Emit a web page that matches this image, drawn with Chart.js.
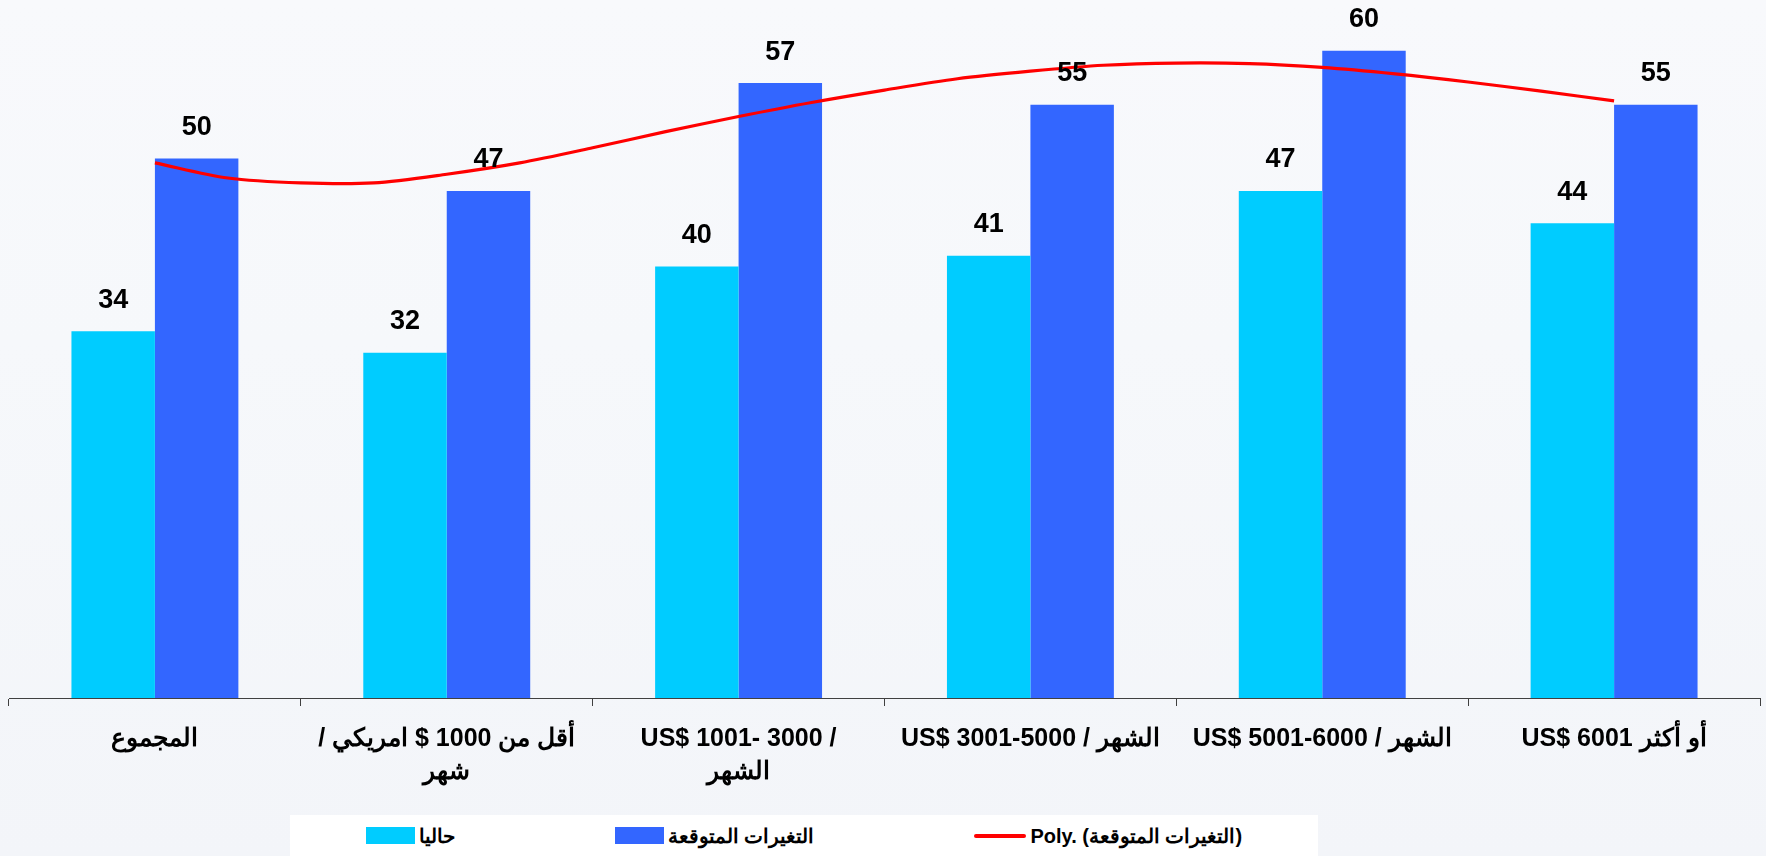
<!DOCTYPE html>
<html>
<head>
<meta charset="utf-8">
<script src="https://cdn.jsdelivr.net/npm/chart.js@4.4.1/dist/chart.umd.min.js"></script>
<style>
  html, body { margin:0; padding:0; }
  body { width:1766px; height:856px; position:relative; overflow:hidden;
         background: linear-gradient(180deg, #F8F9FC 0%, #F6F8FB 40%, #F3F5F9 100%);
         font-family: "Liberation Sans", Arial, sans-serif; }
  #wrap { position:absolute; left:0; top:0; width:1766px; height:856px; }
  #legend { position:absolute; left:290px; top:815px; width:1028px; height:41px; background:#FFFFFF;
            display:flex; justify-content:center; align-items:center; gap:160px; direction:ltr; }
  .item { display:flex; align-items:center; gap:4px; font-weight:bold; font-size:20px; color:#000; white-space:nowrap; }
  .sw { width:49px; height:17px; }
  .ln { width:52px; height:4px; border-radius:2px; }
</style>
</head>
<body>
<div id="wrap"><canvas id="c" width="1766" height="856" dir="ltr"></canvas></div>
<div id="legend"></div>
<script>
// ---- data ----
const categories = [
  "المجموع",
  ["/ أقل من 1000 $ امريكي", "شهر"],
  ["US$ 1001- 3000 /", "الشهر"],
  "US$ 3001-5000 / الشهر",
  "US$ 5001-6000 / الشهر",
  "US$ 6001 أو أكثر"
];
const currentValues  = [34, 32, 40, 41, 47, 44];
const expectedValues = [50, 47, 57, 55, 60, 55];
const seriesNames = ["حاليا", "التغيرات المتوقعة", "Poly. (التغيرات المتوقعة)"];
// trend line (x in category index units)
const trendX = [0, 0.25, 0.5, 0.75, 1.0, 1.25, 1.5, 1.75, 2.0, 2.25, 2.5, 2.75, 3.0, 3.25, 3.5, 3.75, 4.0, 4.25, 4.5, 4.75, 5.0];
const trendY = [49.6, 48.2, 47.75, 47.75, 48.55, 49.6, 51.0, 52.5, 53.9, 55.2, 56.35, 57.4, 58.1, 58.65, 58.85, 58.8, 58.45, 57.85, 57.1, 56.25, 55.35];

const colors = { current: "#00CCFF", expected: "#3366FF", trend: "#FF0000" };

const labelPlugin = {
  id: "barLabels",
  afterDatasetsDraw(chart) {
    const ctx = chart.ctx;
    ctx.save();
    ctx.font = "bold 27px 'Liberation Sans', Arial, sans-serif";
    ctx.fillStyle = "#000";
    ctx.textAlign = "center";
    ctx.textBaseline = "middle";
    chart.data.datasets.forEach((ds, i) => {
      if (ds.type !== "bar") return;
      const meta = chart.getDatasetMeta(i);
      meta.data.forEach((bar, j) => {
        ctx.fillText(String(ds.data[j].y), bar.x, bar.y - 31);
      });
    });
    ctx.restore();
  }
};

const toPoints = (arr) => arr.map((v, i) => ({ x: i, y: v }));

const chart = new Chart(document.getElementById("c"), {
  data: {
    labels: categories,
    datasets: [
      { type: "bar", label: seriesNames[0], data: toPoints(currentValues), backgroundColor: colors.current,
        categoryPercentage: 0.572, barPercentage: 1.0, order: 1 },
      { type: "bar", label: seriesNames[1], data: toPoints(expectedValues), backgroundColor: colors.expected,
        categoryPercentage: 0.572, barPercentage: 1.0, order: 2 },
      { type: "line", label: seriesNames[2],
        data: trendX.map((x, i) => ({ x: x, y: trendY[i] })),
        borderColor: colors.trend, borderWidth: 3.2, pointRadius: 0, tension: 0.3, fill: false, order: 0 }
    ]
  },
  options: {
    responsive: false,
    animation: false,
    layout: { padding: { left: 9, right: 6, top: 0, bottom: 0 } },
    plugins: { legend: { display: false }, tooltip: { enabled: false } },
    scales: {
      x: { type: "linear", display: false, offset: false, min: -0.5, max: 5.5,
           afterBuildTicks(scale) { scale.ticks = categories.map((_, i) => ({ value: i })); } },
      xCat: {
        type: "category",
        position: "bottom",
        labels: categories,
        offset: true,
        grid: { display: true, offset: true, drawOnChartArea: false, drawTicks: true, tickLength: 8, color: "#404040", lineWidth: 1 },
        border: { display: true, color: "#404040", width: 1 },
        ticks: { color: "#000", maxRotation: 0, autoSkip: false, padding: 17,
                 font: { family: "'Liberation Sans', Arial, sans-serif", size: 25, weight: "bold", lineHeight: "33px" } },
        afterFit(scale) { scale.height = 158; }
      },
      y: { display: false, min: 0, max: 64.7 }
    }
  },
  plugins: [labelPlugin]
});

// HTML legend built from datasets
const lg = document.getElementById("legend");
chart.data.datasets.forEach(ds => {
  const it = document.createElement("div");
  it.className = "item";
  const mark = document.createElement("span");
  if (ds.type === "line") { mark.className = "ln"; mark.style.background = ds.borderColor; }
  else { mark.className = "sw"; mark.style.background = ds.backgroundColor; }
  const t = document.createElement("span");
  t.textContent = ds.label;
  it.appendChild(mark); it.appendChild(t);
  lg.appendChild(it);
});
</script>
</body>
</html>
